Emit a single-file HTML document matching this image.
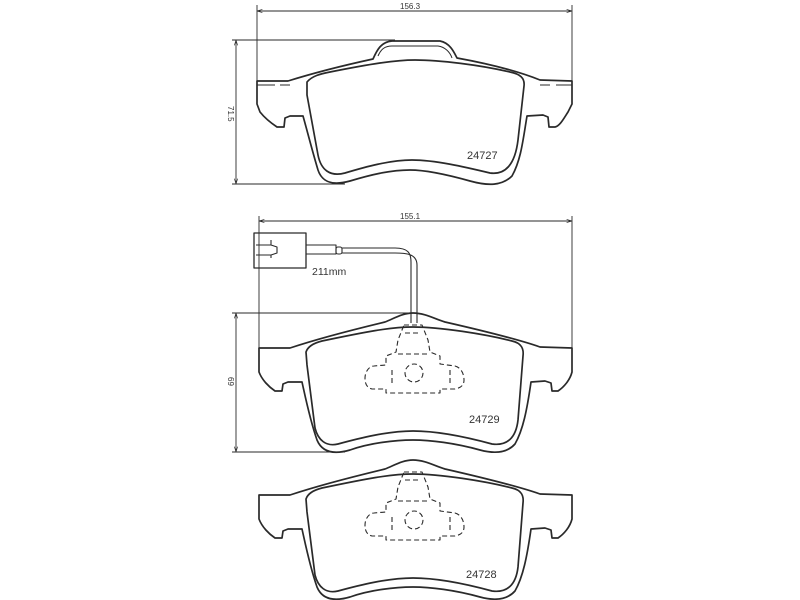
<!DOCTYPE html>
<html><head><style>body{margin:0;background:#fff}svg{display:block}</style></head><body>
<svg width="800" height="600" viewBox="0 0 800 600" xmlns="http://www.w3.org/2000/svg" font-family="Liberation Sans, sans-serif">
<defs>
<marker id="ar" viewBox="0 0 10 10" refX="10" refY="5" markerWidth="6" markerHeight="6" orient="auto-start-reverse"><path d="M0,2 L10,5 L0,8" fill="none" stroke="#2a2a2a" stroke-width="1.2"/></marker>
</defs>
<g fill="none" stroke="#2a2a2a" stroke-width="1.7" stroke-linejoin="round">
<!-- top dimensions -->
<g stroke-width="0.9">
<line x1="257" y1="5" x2="257" y2="100"/><line x1="572" y1="5" x2="572" y2="85"/>
<line x1="257" y1="11" x2="572" y2="11" marker-start="url(#ar)" marker-end="url(#ar)"/>
<line x1="232" y1="40" x2="395" y2="40"/><line x1="232" y1="184" x2="345" y2="184"/>
<line x1="236" y1="40" x2="236" y2="184" marker-start="url(#ar)" marker-end="url(#ar)"/>
</g>
<!-- top pad outer -->
<path d="M257,81 L288,81 C320,71 350,64 373,59 C377,50 381,42 392,41 L440,41 C450,43 454,52 457,58 C490,64 520,72 540,80 L572,81 L572,104 L568,112 C564,118 560,126 555,127 L549,127 L548,117 L543,115 L527,116 C523,140 521,160 512,176 C502,186 488,186 470,181 C445,174 425,170 410,170 C390,170 370,175 350,181 C332,186 322,182 318,170 C312,150 307,130 303,116 L290,116 L285,118 L284,127 L277,127 C271,123 264,117 260,112 L257,104 Z"/>
<path d="M378,56 C381,49 385,46 392,46 L438,46 C445,47 450,52 452,58" stroke-width="1"/>
<path d="M257,85 L275,85 M280,85 L290,85 M540,85 L550,85 M556,85 L572,85" stroke-width="1"/>
<!-- top friction -->
<path d="M307,82 C312,76 320,74 330,72 C370,64 395,60 415,60 C440,60 480,65 510,72 C520,74 525,78 524,86 L518,140 C515,165 505,175 490,173 C465,167 435,160 412,160 C390,160 365,167 345,173 C330,177 321,170 318,155 L307,95 Z"/>
<!-- middle dimensions -->
<g stroke-width="0.9">
<line x1="259" y1="216" x2="259" y2="350"/><line x1="572" y1="216" x2="572" y2="350"/>
<line x1="259" y1="221" x2="572" y2="221" marker-start="url(#ar)" marker-end="url(#ar)"/>
<line x1="232" y1="313" x2="410" y2="313"/><line x1="232" y1="452" x2="345" y2="452"/>
<line x1="236" y1="313" x2="236" y2="452" marker-start="url(#ar)" marker-end="url(#ar)"/>
</g>
<!-- connector + wire -->
<rect x="254" y="233" width="52" height="35" stroke-width="1.3"/>
<path d="M256,245 L271,245 L271,240 M256,255 L271,255 L271,258 M271,245 L277,247 L277,253 L271,255" stroke-width="1.1"/>
<path d="M306,245 L336,245 L336,254 L306,254" stroke-width="1.1"/>
<rect x="336" y="247" width="6" height="7" rx="2" stroke-width="1.1"/>
<path d="M342,248 L395,248 C408,248 411,253 411,262 L411,323 M342,253 L395,253 C404,253 417,253 417,265 L417,323" stroke-width="1.1"/>
</g>
<g id="pad" fill="none" stroke="#2a2a2a" stroke-width="1.7" stroke-linejoin="round">
<path d="M259,348 L290,348 C320,338 360,328 385,322 C395,318 403,313 413,313 C425,313 435,319 445,322 C480,330 520,340 540,347 L572,348 L572,372 C570,380 564,387 558,391 L552,391 L551,383 L545,381 L531,382 C527,410 523,430 515,444 C507,453 495,454 480,450 C455,443 430,440 413,440 C395,440 370,443 350,450 C333,455 322,452 317,440 C310,420 306,400 302,382 L288,382 L283,384 L282,391 L275,391 C269,387 262,380 259,372 Z"/>
<path d="M306,352 C308,346 314,343 322,341 C365,332 390,327 413,327 C440,327 485,334 512,341 C521,343 524,348 523,356 L518,420 C516,438 507,446 492,444 C470,438 440,431 413,431 C388,431 360,438 338,444 C326,447 318,440 315,428 L307,365 Z"/>
<g stroke-width="1.1" stroke-dasharray="5,3">
<path d="M404,325 L422,325 L428,340 L430,352 L440,356 L440,364 L455,366 C462,368 464,375 464,380 C464,386 460,388 455,389 L440,389 L440,393 L386,393 L386,389 L372,389 C367,388 365,384 365,378 C365,372 369,366 374,366 L386,365 L386,356 L396,352 L398,340 Z"/>
<path d="M398,354 L430,354 M405,333 L420,333 M392,370 L392,386 M450,370 L450,386"/>
<circle cx="414" cy="373" r="9"/>
</g>
</g>
<use href="#pad" transform="translate(0,147)"/>
<g font-size="11" fill="#333">
<text x="467" y="159">24727</text>
<text x="469" y="423">24729</text>
<text x="466" y="578">24728</text>
<text x="312" y="275" font-size="10.5">211mm</text>
<text x="400" y="9" font-size="8">156.3</text>
<text x="400" y="219" font-size="8">155.1</text>
<text x="0" y="0" font-size="8" transform="translate(228,106) rotate(90)">71.5</text>
<text x="0" y="0" font-size="8" transform="translate(228,377) rotate(90)">69</text>
</g>
</svg>
</body></html>
